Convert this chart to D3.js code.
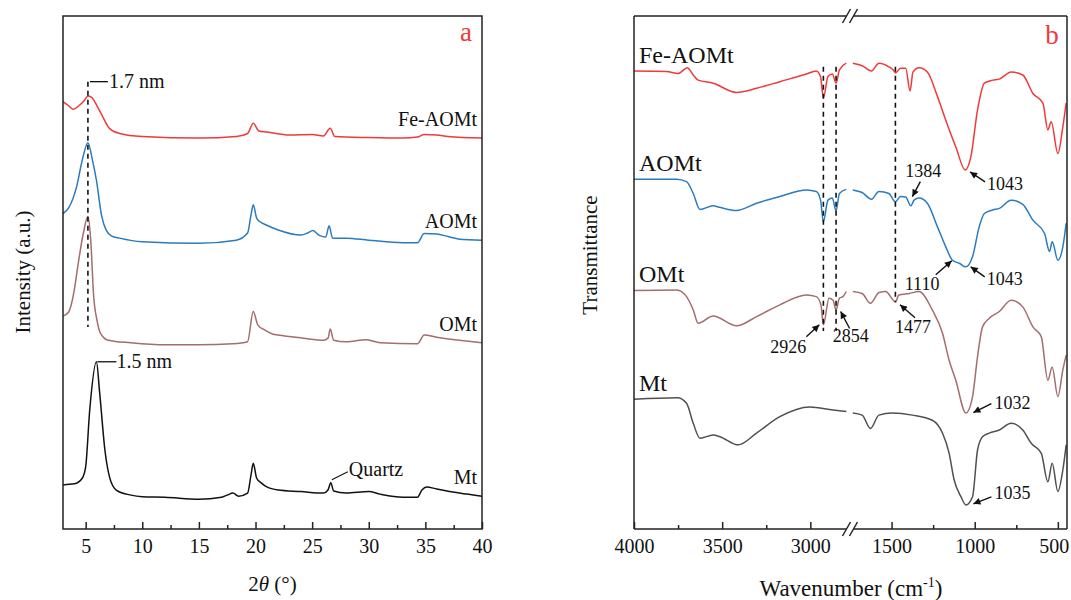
<!DOCTYPE html>
<html>
<head>
<meta charset="utf-8">
<script src="https://cdn.jsdelivr.net/npm/d3@7"></script>
<style>
  body { margin: 0; background: #fff; }
  svg { font-family: "Liberation Serif", "Times New Roman", serif; }
</style>
</head>
<body>
<svg id="fig" width="1071" height="600"></svg>
<script>
// ---- XRD (panel a): [2theta, intensity], stacked ----
const xrdMt = [[3,8.6],[4,8.8],[4.7,9.9],[5.0,12.1],[5.36,23.2],[5.95,32.6],[6.24,26.5],[6.7,15.4],[7.1,10.2],[7.7,7.6],[9,6.6],[10,6.3],[12,6.2],[15,5.8],[17,6.2],[17.5,6.6],[18,7.0],[18.5,6.4],[19.3,7.0],[19.6,10.5],[19.8,12.8],[20.1,9.9],[20.5,9.0],[21,8.2],[22,7.6],[24,7.3],[26,7.0],[26.4,7.6],[26.65,9.0],[26.9,7.4],[28,7.0],[30,7.3],[31,6.8],[33,6.2],[34.3,6.2],[34.7,7.6],[35.1,8.2],[36,7.8],[38,7.0],[40,6.4]];
const xrdOMt = [[3,41.5],[3.5,42.3],[4.0,46.6],[4.3,51.1],[4.8,57.7],[5.2,60.9],[5.45,56.3],[5.7,45.6],[6.0,40.7],[6.3,38.2],[7,36.8],[9,36.3],[12,35.9],[15,35.9],[18,36.1],[19.3,36.5],[19.8,42.4],[20.2,39.8],[20.8,38.8],[21.5,38.0],[22,37.8],[24.2,37.2],[26,36.8],[26.4,37.2],[26.6,39.0],[26.9,36.8],[28,36.5],[29.8,36.9],[31,36.3],[34.3,36.1],[34.9,37.8],[36,37.4],[38,36.8],[40,36.3]];
const xrdAOMt = [[3,61.5],[3.5,62.6],[4.2,66.7],[4.7,71.9],[5.2,75.3],[5.6,71.9],[5.95,68.0],[6.4,61.2],[6.8,58.3],[7.3,57.1],[8,56.7],[10,56.0],[15,55.7],[18.3,56.3],[19.3,57.7],[19.6,61.2],[19.8,63.2],[20.1,60.6],[20.4,59.9],[20.9,59.3],[22,58.3],[24,57.3],[24.6,57.7],[25.06,58.2],[25.6,57.3],[26.2,56.9],[26.5,59.1],[26.8,56.7],[28,56.7],[30,56.3],[33,55.8],[34.3,55.8],[34.9,57.6],[36,57.5],[37,57.0],[38,56.5],[40,56.3]];
const xrdFeAOMt = [[3,83.3],[3.5,82.5],[3.9,81.8],[4.4,82.5],[4.9,83.6],[5.2,84.4],[5.5,84.2],[6.0,82.5],[6.5,80.4],[7.1,78.1],[8,77.1],[10,76.5],[15,76.2],[18.3,76.5],[19.3,77.1],[19.8,79.1],[20.3,77.6],[21,77.4],[23,76.8],[25,76.9],[26,76.6],[26.6,78.1],[27,76.5],[30,76.3],[33,76.2],[34.3,76.4],[34.9,76.9],[36,76.8],[37,76.5],[40,76.2]];
const xrdNames = ["Mt", "OMt", "AOMt", "Fe-AOMt"];
const xrdTicks = [5, 10, 15, 20, 25, 30, 35, 40];
const xrdMinor = [7.5, 12.5, 17.5, 22.5, 27.5, 32.5, 37.5];

// ---- FTIR (panel b): [wavenumber, transmittance], stacked, broken axis ----
const irMt = [[4000,25.3],[3754,25.6],[3702,24.5],[3664,20.6],[3626,17.7],[3551,18.3],[3513,18.0],[3409,16.4],[3305,18.7],[3173,21.9],[3003,23.8],[2871,23.2],[2796,22.9],
  [1733,22.6],[1677,22.2],[1627,19.6],[1576,22.2],[1496,22.6],[1375,22.2],[1255,21.2],[1194,18.7],[1154,14.8],[1124,9.6],[1083,6.3],[1053,4.7],[1013,6.3],[983,15.4],[953,18.0],[912,18.7],[852,19.3],[781,20.6],[711,19.3],[660,16.7],[600,14.8],[560,9.2],[534,12.8],[500,7.3],[470,11.5],[450,16.4]];
const irOMt = [[4000,46.5],[3758,46.6],[3702,45.3],[3664,42.7],[3636,40.1],[3551,41.5],[3419,39.6],[3305,41.4],[3173,43.7],[3022,45.6],[2966,45.3],[2940,43.7],[2926,39.8],[2894,45.0],[2871,44.6],[2854,42.7],[2835,45.0],[2815,45.3],[2796,46.3],
  [1733,46.3],[1677,45.9],[1627,44.0],[1576,46.1],[1536,46.3],[1477,44.3],[1456,45.6],[1395,45.9],[1335,46.3],[1255,42.7],[1194,38.2],[1154,32.9],[1114,29.0],[1053,22.6],[1013,25.8],[983,33.6],[953,39.4],[912,41.1],[852,42.4],[781,44.6],[711,43.3],[650,39.4],[600,37.5],[560,29.0],[534,31.6],[500,25.8],[470,31.0],[450,33.9]];
const irAOMt = [[4000,68.2],[3758,68.2],[3702,67.7],[3664,65.4],[3626,62.3],[3551,63.0],[3513,62.7],[3419,62.1],[3305,63.5],[3173,64.8],[3022,66.1],[2966,65.8],[2942,64.1],[2926,59.9],[2900,64.1],[2875,64.5],[2854,62.0],[2835,65.4],[2796,66.2],
  [1733,66.1],[1677,65.6],[1621,64.3],[1576,65.8],[1516,65.4],[1477,63.8],[1446,64.8],[1415,64.7],[1384,63.0],[1365,64.1],[1335,64.5],[1285,63.5],[1224,58.9],[1174,55.0],[1134,52.4],[1093,51.8],[1053,51.1],[1013,53.1],[973,58.9],[942,61.5],[892,62.2],[852,62.5],[781,64.1],[711,63.3],[650,60.2],[580,57.6],[550,54.1],[534,56.0],[500,52.4],[470,55.0],[450,59.6]];
const irFeAOMt = [[4000,89.3],[3815,89.2],[3749,88.8],[3698,89.9],[3664,88.5],[3636,87.5],[3551,86.9],[3419,85.1],[3305,85.9],[3173,87.2],[3022,88.7],[2966,89.3],[2942,88.2],[2926,84.0],[2900,88.2],[2875,88.7],[2854,86.9],[2835,89.5],[2796,90.8],
  [1733,90.8],[1677,90.3],[1621,89.3],[1576,90.8],[1516,90.1],[1490,89.5],[1477,88.9],[1446,89.8],[1415,89.8],[1389,85.4],[1371,89.1],[1335,89.9],[1285,89.1],[1224,84.3],[1174,79.7],[1114,74.5],[1057,70.0],[1023,72.6],[983,81.7],[942,86.9],[892,87.5],[852,87.7],[781,89.1],[711,88.5],[650,84.9],[590,83.0],[560,77.8],[540,79.4],[500,73.2],[470,78.4],[450,83.0]];
const irNames = ["Mt", "OMt", "AOMt", "Fe-AOMt"];
const irTicksL = [4000, 3500, 3000], irMinorL = [3750, 3250];
const irTicksR = [1500, 1000, 500], irMinorR = [1250, 750];
const irGuideWn = [2926, 2854, 1477];
const irMarkText = ["1384", "1043", "1110", "1043", "2926", "2854", "1477", "1032", "1035"];
const irMarkWn = [1375, 1028, 1138, 1024, 2949, 2828, 1449, 1008, 1008];
const irMarkT = [64.8, 69.6, 52.3, 51.1, 39.8, 42.4, 43.7, 22.7, 4.9];

const colors = ["#111111", "#a26e6e", "#2b7bbf", "#ee3a3a"];
const irColors = ["#505050", "#a26e6e", "#2b7bbf", "#ee3a3a"];

const svg = d3.select("#fig");
const defs = svg.append("defs");
defs.append("marker").attr("id", "arr").attr("viewBox", "0 0 10 10")
  .attr("refX", 10).attr("refY", 5).attr("markerWidth", 9).attr("markerHeight", 7)
  .attr("markerUnits", "userSpaceOnUse").attr("orient", "auto")
  .append("path").attr("d", "M0,0L10,5L0,10z").attr("fill", "#111");

// ================= panel a =================
const ax = {l: 63, r: 482, t: 16, b: 529};
const xA = d3.scaleLinear().domain([3, 40]).range([ax.l, ax.r]);
const yA = d3.scaleLinear().domain([0, 100]).range([ax.b, ax.t]);
const lineA = d3.line().x(d => xA(d[0])).y(d => yA(d[1])).curve(d3.curveMonotoneX);

const gA = svg.append("g");
[xrdMt, xrdOMt, xrdAOMt, xrdFeAOMt].forEach((s, i) => {
  gA.append("path").datum(s).attr("d", lineA).attr("fill", "none")
    .attr("stroke", colors[i]).attr("stroke-width", 1.5);
  gA.append("text").attr("x", ax.r - 5).attr("y", yA(s[s.length - 1][1]) - 12)
    .attr("text-anchor", "end").attr("font-size", 20).attr("fill", "#111").text(xrdNames[i]);
});

// axes (ticks inside)
const axA = gA.append("g").attr("transform", `translate(0,${ax.b})`)
  .call(d3.axisBottom(xA).tickValues(xrdTicks).tickSize(-7).tickPadding(10).tickFormat(d3.format("d")));
const axA2 = gA.append("g").attr("transform", `translate(0,${ax.b})`)
  .call(d3.axisBottom(xA).tickValues(xrdMinor).tickSize(-4).tickFormat(""));
[axA, axA2].forEach(g => {
  g.select(".domain").remove();
  g.selectAll("line").attr("stroke", "#222").attr("stroke-width", 1.5);
  g.selectAll("text").attr("font-size", 20).attr("fill", "#111").attr("font-family", "Liberation Serif");
});
gA.append("rect").attr("x", ax.l).attr("y", ax.t).attr("width", ax.r - ax.l).attr("height", ax.b - ax.t)
  .attr("fill", "none").attr("stroke", "#222").attr("stroke-width", 1.5);

// 1.7 nm guide
gA.append("line").attr("x1", xA(5.2)).attr("x2", xA(5.2)).attr("y1", yA(87.2)).attr("y2", yA(39.4))
  .attr("stroke", "#111").attr("stroke-width", 1.6).attr("stroke-dasharray", "5,4");
gA.append("line").attr("x1", xA(5.2) + 2).attr("x2", xA(5.2) + 20).attr("y1", yA(87.2)).attr("y2", yA(87.2))
  .attr("stroke", "#111").attr("stroke-width", 1.3);
gA.append("text").attr("x", xA(5.2) + 21).attr("y", yA(87.2) + 6).attr("font-size", 20).attr("fill", "#111").text("1.7 nm");
// 1.5 nm
gA.append("line").attr("x1", xA(5.95) + 1).attr("x2", xA(5.95) + 20).attr("y1", yA(32.6)).attr("y2", yA(32.6))
  .attr("stroke", "#111").attr("stroke-width", 1.3);
gA.append("text").attr("x", xA(5.95) + 20).attr("y", yA(32.6) + 6).attr("font-size", 20).attr("fill", "#111").text("1.5 nm");
// Quartz
gA.append("line").attr("x1", xA(26.65) + 1).attr("y1", yA(9.0) - 3).attr("x2", xA(26.65) + 17).attr("y2", yA(9.0) - 11)
  .attr("stroke", "#111").attr("stroke-width", 1.2);
gA.append("text").attr("x", xA(26.65) + 18).attr("y", yA(9.0) - 7).attr("font-size", 20).attr("fill", "#111").text("Quartz");

gA.append("text").attr("x", 466).attr("y", 41).attr("text-anchor", "middle").attr("font-size", 27).attr("fill", "#ee3a3a").text("a");
gA.append("text").attr("transform", "translate(30,272) rotate(-90)").attr("text-anchor", "middle")
  .attr("font-size", 21).attr("fill", "#111").text("Intensity (a.u.)");
const tA = gA.append("text").attr("x", (ax.l + ax.r) / 2).attr("y", 591).attr("text-anchor", "middle")
  .attr("font-size", 21).attr("fill", "#111");
tA.append("tspan").text("2");
tA.append("tspan").attr("font-style", "italic").text("θ");
tA.append("tspan").text(" (°)");

// ================= panel b =================
const bx = {l: 634, r: 1067, t: 16, b: 529};
const xL = d3.scaleLinear().domain([4000, 2775]).range([bx.l, 850]);
const xR = d3.scaleLinear().domain([1750, 445]).range([850, bx.r]);
const yB = d3.scaleLinear().domain([0, 100]).range([bx.b, bx.t]);
const xW = w => (w > 2000 ? xL(w) : xR(w));
const lineB = d3.line().x(d => xW(d[0])).y(d => yB(d[1])).curve(d3.curveMonotoneX);
const brk = xL(2775);

const gB = svg.append("g");
[irMt, irOMt, irAOMt, irFeAOMt].forEach((s, i) => {
  gB.append("path").datum(s.filter(d => d[0] > 2000)).attr("d", lineB).attr("fill", "none")
    .attr("stroke", irColors[i]).attr("stroke-width", 1.5);
  gB.append("path").datum(s.filter(d => d[0] < 2000)).attr("d", lineB).attr("fill", "none")
    .attr("stroke", irColors[i]).attr("stroke-width", 1.5);
  gB.append("text").attr("x", bx.l + 5).attr("y", yB(s[0][1]) - 8)
    .attr("font-size", 24).attr("fill", "#111").text(irNames[i]);
});

// guides
irGuideWn.forEach((w, i) => {
  gB.append("line").attr("x1", xW(w)).attr("x2", xW(w)).attr("y1", yB(90.1)).attr("y2", yB(i < 2 ? 38.6 : 44.2))
    .attr("stroke", "#111").attr("stroke-width", 1.6).attr("stroke-dasharray", "5,4");
});

// peak arrows: [tail dx, tail dy, text dx, text dy] relative to tip
const markLayout = [[8, -15, -7, -20], [15, 10, 17, 18], [-16, 14, -47, 29], [14, 10, 16, 18],
  [-13, 12, -49, 28], [9, 17, -8, 31], [15, 13, -5, 28], [18, -9, 21, -4], [18, -7, 21, -5]];
irMarkText.forEach((t, i) => {
  const px = xW(irMarkWn[i]), py = yB(irMarkT[i]), m = markLayout[i];
  gB.append("line").attr("x1", px + m[0]).attr("y1", py + m[1]).attr("x2", px).attr("y2", py)
    .attr("stroke", "#111").attr("stroke-width", 1.4).attr("marker-end", "url(#arr)");
  gB.append("text").attr("x", px + m[2]).attr("y", py + m[3]).attr("font-size", 18).attr("fill", "#111").text(t);
});

// axes
const axDefs = [[xL, irTicksL, -7, d3.format("d")], [xL, irMinorL, -4, () => ""],
  [xR, irTicksR, -7, d3.format("d")], [xR, irMinorR, -4, () => ""]];
axDefs.forEach(a => {
  const g = gB.append("g").attr("transform", `translate(0,${bx.b})`)
    .call(d3.axisBottom(a[0]).tickValues(a[1]).tickSize(a[2]).tickPadding(10).tickFormat(a[3]));
  g.select(".domain").remove();
  g.selectAll("line").attr("stroke", "#222").attr("stroke-width", 1.5);
  g.selectAll("text").attr("font-size", 20).attr("fill", "#111").attr("font-family", "Liberation Serif");
  // keep the last label inside the page edge
  g.selectAll("text").filter(d => d === 500).attr("dx", -4);
});

// broken frame
const frame = [[[bx.l, bx.t], [brk - 4, bx.t]], [[brk + 4, bx.t], [bx.r, bx.t]],
  [[bx.l, bx.b], [brk - 4, bx.b]], [[brk + 4, bx.b], [bx.r, bx.b]],
  [[bx.l, bx.t], [bx.l, bx.b]], [[bx.r, bx.t], [bx.r, bx.b]]];
frame.forEach(p => gB.append("path").attr("d", d3.line()(p)).attr("stroke", "#222").attr("stroke-width", 1.5).attr("fill", "none"));
[bx.t, bx.b].forEach(y => {
  [-3.5, 3.5].forEach(o => {
    gB.append("line").attr("x1", brk + o - 4).attr("y1", y + 7).attr("x2", brk + o + 4).attr("y2", y - 7)
      .attr("stroke", "#222").attr("stroke-width", 1.5);
  });
});

gB.append("text").attr("x", 1052).attr("y", 44).attr("text-anchor", "middle").attr("font-size", 27).attr("fill", "#ee3a3a").text("b");
gB.append("text").attr("transform", "translate(597,255) rotate(-90)").attr("text-anchor", "middle")
  .attr("font-size", 21).attr("fill", "#111").text("Transmittance");
const tB = gB.append("text").attr("x", brk + 1).attr("y", 596).attr("text-anchor", "middle")
  .attr("font-size", 23).attr("fill", "#111");
tB.append("tspan").text("Wavenumber (cm");
tB.append("tspan").attr("font-size", 14).attr("dy", -9).text("-1");
tB.append("tspan").attr("dy", 9).text(")");
</script>
</body>
</html>
